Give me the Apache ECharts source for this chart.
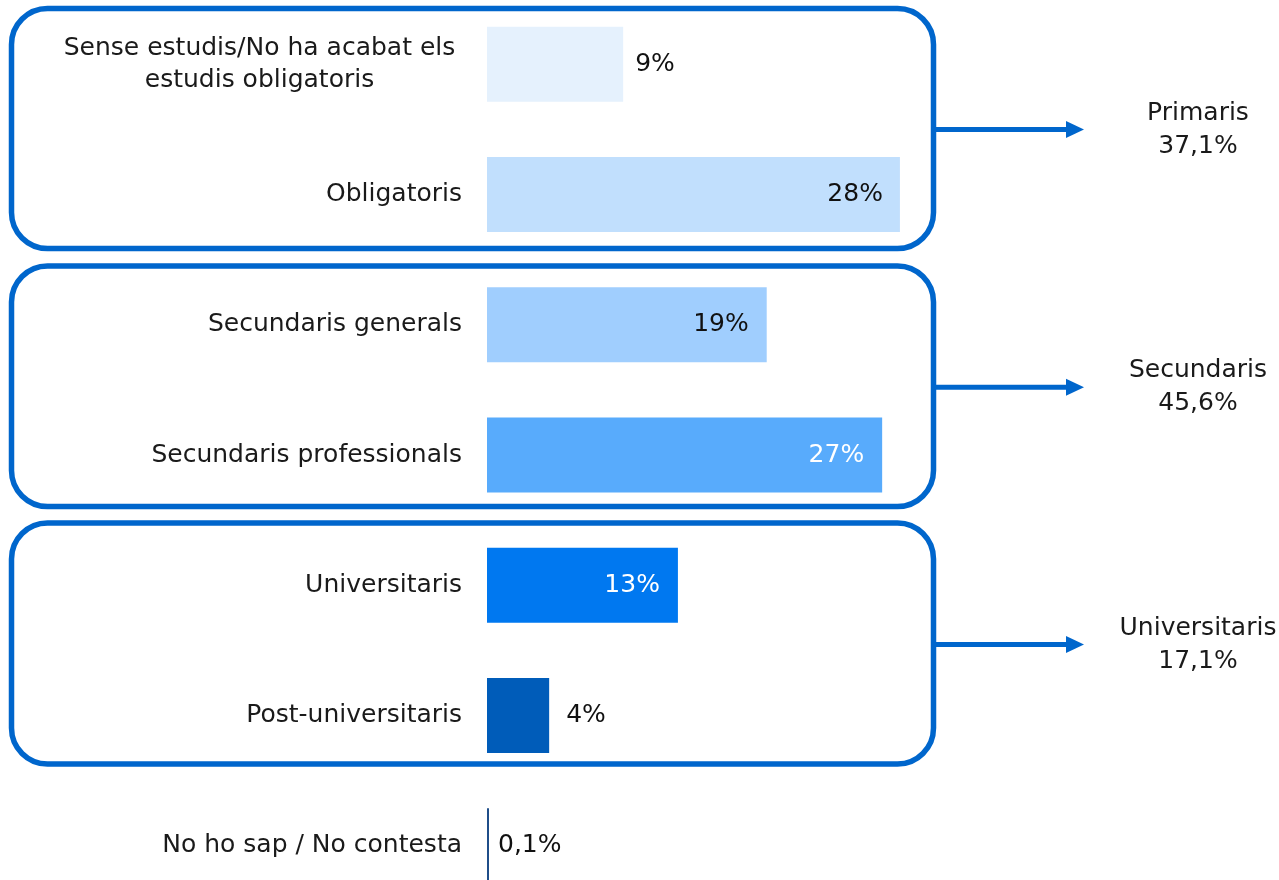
<!DOCTYPE html>
<html>
<head>
<meta charset="utf-8">
<script src="https://cdn.jsdelivr.net/npm/echarts@6/dist/echarts.min.js"></script>
<style>
html,body{margin:0;padding:0;background:#fff;overflow:hidden;height:880px;}
#c{width:1279px;height:912px;margin-top:-1px;}
</style>
</head>
<body>
<div id="c"></div>
<script>
// ---- data ----
const categories = [
  'Sense estudis/No ha acabat els\nestudis obligatoris',
  'Obligatoris',
  'Secundaris generals',
  'Secundaris professionals',
  'Universitaris',
  'Post-universitaris',
  'No ho sap / No contesta'
];
const values = [9.2, 27.9, 18.9, 26.7, 12.9, 4.2, 0.1];
const groupNames = ['Primaris', 'Secundaris', 'Universitaris'];
const groupTotals = ['37,1%', '45,6%', '17,1%'];

// ---- styles ----
const FONT = '"DejaVu Sans", sans-serif';
const FS = 25;
const barColors = ['#e5f1fd', '#c1dffd', '#a0cefe', '#58abfc', '#0078f0', '#005cb9', '#1f4e89'];
const labelPos = ['right', 'insideRight', 'insideRight', 'insideRight', 'insideRight', 'right', 'right'];
const labelColors = ['#111', '#111', '#111', '#fff', '#fff', '#111', '#111'];
const labelDist = [12, 17, 18, 18, 18, 17, 9];
// box rectangles in page pixels (div is shifted up by 1px)
const boxes = [[11.5, 8.5, 933.5, 248.5], [11.5, 266, 933.5, 506.5], [11.5, 523, 933.5, 764]];
const OFF = 1;
const BLUE = '#0066cc';

function fmt(v) {
  return v < 1 ? v.toFixed(1).replace('.', ',') + '%' : Math.round(v) + '%';
}

const chart = echarts.init(document.getElementById('c'));

const graphics = [];
boxes.forEach((b, i) => {
  const y1 = b[1] + OFF, y2 = b[3] + OFF;
  graphics.push({
    type: 'rect', z: 0,
    shape: { x: b[0], y: y1, width: b[2] - b[0], height: y2 - y1, r: 36 },
    style: { fill: 'none', stroke: BLUE, lineWidth: 5.5 }
  });
  const cy = (y1 + y2) / 2 + 1;
  graphics.push({
    type: 'line', z: 0,
    shape: { x1: b[2], y1: cy, x2: 1070, y2: cy },
    style: { stroke: BLUE, lineWidth: 5 }
  });
  graphics.push({
    type: 'polygon', z: 0,
    shape: { points: [[1066, cy - 8.5], [1084, cy], [1066, cy + 8.5]] },
    style: { fill: BLUE }
  });
  graphics.push({
    type: 'text', z: 5,
    x: 1198, y: cy,
    style: {
      text: groupNames[i] + '\n' + groupTotals[i],
      fontFamily: FONT, fontSize: FS, lineHeight: 33,
      fill: '#1a1a1a', align: 'center', verticalAlign: 'middle'
    }
  });
});

chart.setOption({
  animation: false,
  backgroundColor: '#fff',
  grid: { left: 487, top: 0, width: 444, height: 912 },
  xAxis: {
    type: 'value', min: 0, max: 30,
    show: false
  },
  yAxis: {
    type: 'category', inverse: true,
    data: categories,
    axisLine: { show: false }, axisTick: { show: false },
    splitLine: { show: false },
    axisLabel: {
      margin: 25,
      fontFamily: FONT, fontSize: FS, color: '#1a1a1a',
      lineHeight: 32,
      formatter: function (v) {
        if (v.indexOf('\n') >= 0) {
          return v.split('\n').map(s => '{c|' + s + '}').join('\n');
        }
        return v;
      },
      rich: {
        c: { fontFamily: FONT, fontSize: FS, color: '#1a1a1a', lineHeight: 32, width: 405, align: 'center' }
      }
    }
  },
  series: [{
    type: 'bar',
    barWidth: 75,
    barMinHeight: 2,
    data: values.map((v, i) => ({
      value: v,
      itemStyle: { color: barColors[i] },
      label: {
        show: true, position: labelPos[i], distance: labelDist[i],
        color: labelColors[i], fontFamily: FONT, fontSize: FS,
        formatter: () => fmt(v)
      }
    }))
  }],
  graphic: graphics
});
</script>
</body>
</html>
